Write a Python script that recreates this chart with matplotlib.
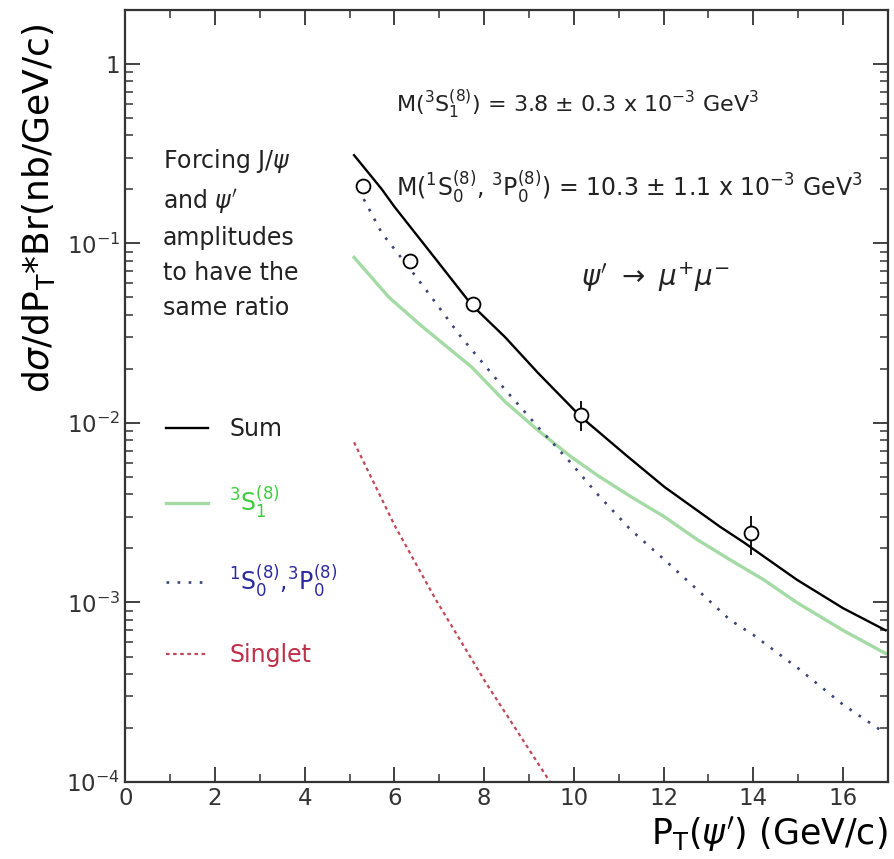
import numpy as np
import matplotlib
matplotlib.use("Agg")
import matplotlib.pyplot as plt
from matplotlib.ticker import FixedLocator, FuncFormatter, LogLocator, NullFormatter, MultipleLocator

# data points (pT, value, error)
pt_data = [5.3, 6.35, 7.75, 10.15, 13.95]
y_data = [0.21, 0.080, 0.046, 0.0111, 0.00245]
y_err = [0.012, 0.006, 0.003, 0.0021, 0.0006]

# theory curves
pt_sum = [5.1, 5.72, 6.0, 6.9, 7.72, 8.47, 9.2, 10.16, 11.2, 12.02, 13.26, 13.79, 14.97, 16.0, 16.95]
y_sum = [0.31, 0.2, 0.16, 0.083, 0.0455, 0.030, 0.019, 0.0108, 0.0065, 0.0044, 0.00264, 0.00216,
         0.00134, 0.00093, 0.0007]

pt_s1 = [5.1, 5.88, 6.61, 7.72, 8.47, 9.2, 9.93, 10.53, 11.26, 12.02, 12.75, 13.48, 14.23, 14.97, 16.0, 16.95]
y_s1 = [0.0836, 0.050, 0.0346, 0.0205, 0.0131, 0.0091, 0.0065, 0.0051, 0.0039, 0.0030, 0.00224, 0.00173,
        0.00134, 0.0010, 0.0007, 0.00052]

pt_s0p0 = [5.2, 5.72, 6.32, 6.76, 7.49, 8.47, 9.2, 9.93, 10.53, 11.26, 12.02, 12.75, 13.48, 14.0, 15.0, 16.0, 16.9]
y_s0p0 = [0.2, 0.114, 0.0736, 0.0528, 0.030, 0.0153, 0.0095, 0.006, 0.004, 0.00255, 0.00173, 0.00118,
          0.0008, 0.00066, 0.00043, 0.00027, 0.00019]

pt_singlet = [5.1, 6.0, 6.92, 8.03, 9.47, 9.7]
y_singlet = [0.0078, 0.0027, 0.00104, 0.00036, 0.0001, 0.000082]

fig = plt.figure(figsize=(8.95, 8.59), dpi=100)
ax = fig.add_axes([0.14, 0.0896, 0.852, 0.899])

ax.plot(pt_sum, y_sum, color='black', lw=1.7, label='Sum')
ax.plot(pt_s1, y_s1, color='#a4dba4', lw=2.4, label=r'$^3$S$_1^{(8)}$')
ax.plot(pt_s0p0, y_s0p0, color='#3c4478', lw=1.9, ls=(0, (1, 3.2)), label=r'$^1$S$_0^{(8)}$,$^3$P$_0^{(8)}$')
ax.plot(pt_singlet, y_singlet, color='#c04858', lw=1.6, ls=(0, (1.6, 1.6)), label='Singlet')
ax.errorbar(pt_data, y_data, yerr=y_err, fmt='o', mfc='white', mec='black', ecolor='black',
            ms=10, mew=1.3, elinewidth=1.3, capsize=0, zorder=5)

ax.set_yscale('log')
ax.set_xlim(0, 17)
ax.set_ylim(1e-4, 2)

ax.xaxis.set_major_locator(MultipleLocator(2))
ax.xaxis.set_minor_locator(MultipleLocator(1))
ax.yaxis.set_major_locator(FixedLocator([1e-4, 1e-3, 1e-2, 1e-1, 1]))
ax.yaxis.set_minor_locator(LogLocator(base=10, subs=np.arange(2, 10)))
ax.yaxis.set_minor_formatter(NullFormatter())


def fmt_y(v, pos):
    if abs(v - 1) < 1e-9:
        return '1'
    return r'$10^{%d}$' % int(round(np.log10(v)))


ax.yaxis.set_major_formatter(FuncFormatter(fmt_y))
ax.tick_params(which='both', direction='in', top=True, right=True, labelsize=16.5, colors='#333333')
ax.tick_params(which='major', length=11, width=1.3)
ax.tick_params(which='minor', length=6, width=1.1)
for s in ax.spines.values():
    s.set_linewidth(1.6)
    s.set_color('#333333')

ax.set_xlabel(r'P$_\mathrm{T}$($\psi^{\prime}$) (GeV/c)', fontsize=25, loc='right', labelpad=3)
ax.set_ylabel(r'd$\sigma$/dP$_\mathrm{T}$*Br(nb/GeV/c)', fontsize=26)
ax.yaxis.set_label_coords(-0.09, 0.743)

ax.text(6.03, 0.6, r'M($^3$S$_1^{(8)}$) = 3.8 $\pm$ 0.3 x 10$^{-3}$ GeV$^3$',
        fontsize=16, va='center', color='#222222')
ax.text(6.03, 0.205, r'M($^1$S$_0^{(8)}$, $^3$P$_0^{(8)}$) = 10.3 $\pm$ 1.1 x 10$^{-3}$ GeV$^3$',
        fontsize=17, va='center', color='#222222', clip_on=True)
ax.text(10.15, 0.0647, r'$\psi^{\prime}\ \rightarrow\ \mu^{+}\mu^{-}$', fontsize=20, va='center', color='#222222')
ax.text(0.84, 0.345, 'Forcing J/$\\psi$\nand $\\psi^{\\prime}$\namplitudes\nto have the\nsame ratio',
        fontsize=17, va='top', ha='left', linespacing=1.57, color='#222222')

leg = ax.legend(loc='upper left', bbox_to_anchor=(0.025, 0.5), frameon=False, fontsize=17,
                handlelength=1.8, handletextpad=0.9, labelspacing=1.8)
for t, c in zip(leg.get_texts(), ['#222222', '#3ccc3c', '#2a2aa0', '#c03048']):
    t.set_color(c)

fig.savefig('out.png', dpi=100)
